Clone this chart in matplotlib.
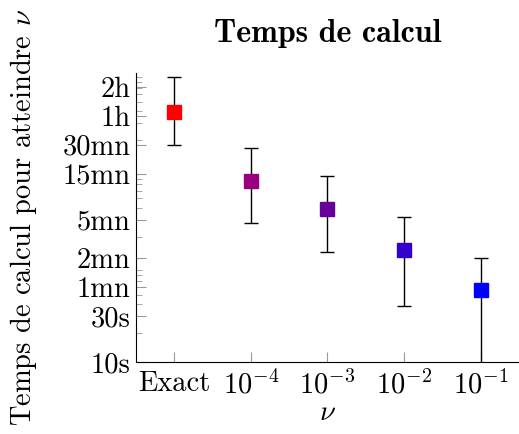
import numpy as np
import matplotlib
matplotlib.use('Agg')
import matplotlib.pyplot as plt
from matplotlib.ticker import FixedLocator, NullFormatter

plt.rcParams['font.family'] = 'cmr10'
plt.rcParams['mathtext.fontset'] = 'cm'
plt.rcParams['axes.formatter.use_mathtext'] = True

# Données (en secondes)
categories = ['Exact', r'$10^{-4}$', r'$10^{-3}$', r'$10^{-2}$', r'$10^{-1}$']
temps = [3925, 750, 383, 144, 56]
err_haut = [9080, 1656, 859, 318, 119]
err_bas = [1778, 274, 139, 38, 5]
couleurs = ['#ff0000', '#990080', '#660099', '#3300cc', '#0000ff']

yticks = [10, 30, 60, 120, 300, 900, 1800, 3600, 7200]
yticklabels = ['10s', '30s', '1mn', '2mn', '5mn', '15mn', '30mn', '1h', '2h']

fig = plt.figure(figsize=(5.19, 4.34), dpi=100)
ax = fig.add_axes([0.262, 0.166, 0.738, 0.666])

x = np.arange(len(categories))
for i in range(len(categories)):
    yerr = [[temps[i] - err_bas[i]], [err_haut[i] - temps[i]]]
    ax.errorbar(x[i], temps[i], yerr=yerr, fmt='none', ecolor='black',
                elinewidth=1.0, capsize=5, capthick=1.0)
    ax.plot(x[i], temps[i], 's', color=couleurs[i], markersize=9.5, zorder=3)

ax.set_yscale('log')
ax.set_ylim(10, 10000)
ax.set_xlim(-0.5, 4.5)

ax.yaxis.set_major_locator(FixedLocator(yticks))
ax.set_yticklabels(yticklabels)
minor = [m * 10 ** k for k in range(1, 4) for m in range(2, 10)]
ax.yaxis.set_minor_locator(FixedLocator(minor))
ax.yaxis.set_minor_formatter(NullFormatter())

ax.set_xticks(x)
ax.set_xticklabels(categories)

ax.spines['top'].set_visible(False)
ax.spines['right'].set_visible(False)
ax.tick_params(which='major', direction='in', length=7.5, color='#999999',
               labelsize=20.5, pad=4)
ax.tick_params(axis='x', which='major', pad=6)
ax.tick_params(which='minor', direction='in', length=4.5, color='#999999')

ax.set_xlabel(r'$\nu$', fontsize=20.5, labelpad=0)
ax.set_ylabel(r'Temps de calcul pour atteindre $\nu$', fontsize=20.5, labelpad=17)
ax.set_title('Temps de calcul', fontsize=23, fontfamily='cmb10', pad=22)

fig.savefig('out.png', dpi=100)
